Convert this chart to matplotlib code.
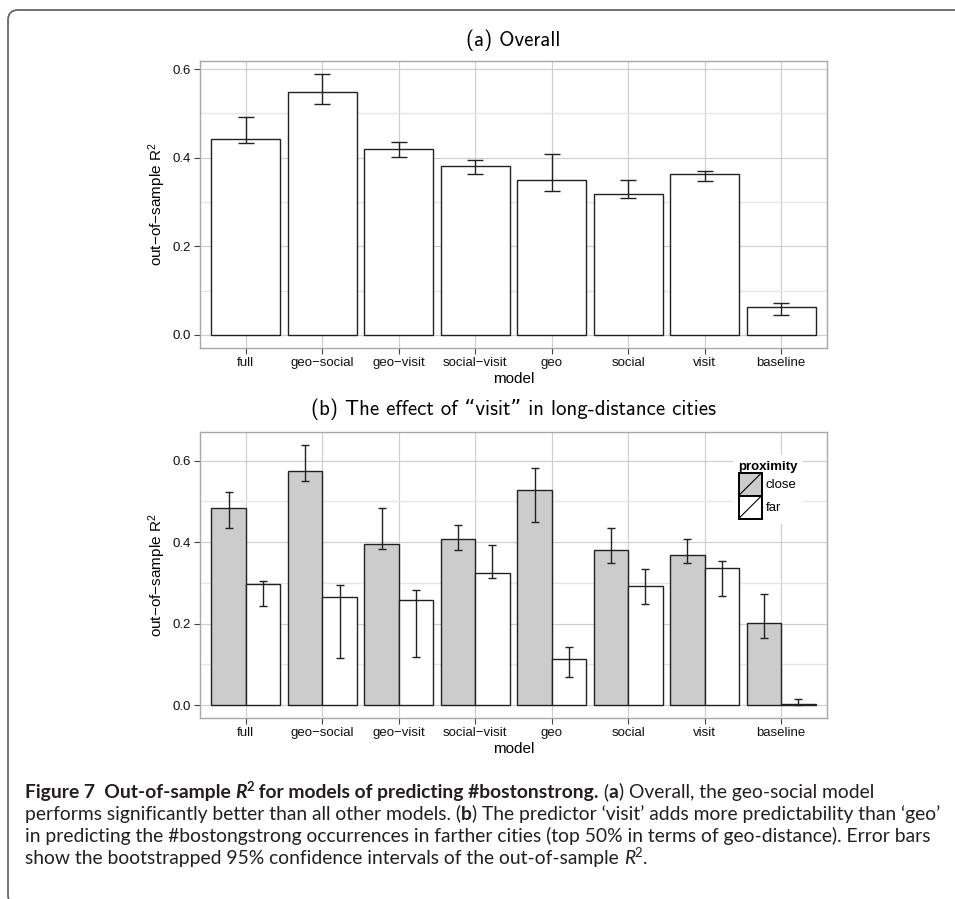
import numpy as np
import matplotlib
matplotlib.use('Agg')
import matplotlib.pyplot as plt
from matplotlib.patches import Patch, Rectangle, FancyBboxPatch
from matplotlib.lines import Line2D
from matplotlib.legend_handler import HandlerPatch

plt.rcParams['font.family'] = ['Liberation Sans', 'DejaVu Sans']
plt.rcParams['mathtext.fontset'] = 'custom'
plt.rcParams['mathtext.rm'] = 'Liberation Sans'
plt.rcParams['mathtext.it'] = 'Liberation Sans:italic'

# data
models = ['full', 'geo\u2212social', 'geo\u2212visit', 'social\u2212visit',
          'geo', 'social', 'visit', 'baseline']

overall_r2 = [0.442, 0.549, 0.419, 0.382, 0.349, 0.319, 0.364, 0.062]
overall_lo = [0.434, 0.522, 0.401, 0.364, 0.324, 0.309, 0.348, 0.045]
overall_hi = [0.493, 0.589, 0.436, 0.395, 0.409, 0.350, 0.370, 0.072]

close_r2 = [0.484, 0.575, 0.395, 0.407, 0.527, 0.381, 0.368, 0.202]
close_lo = [0.434, 0.549, 0.383, 0.381, 0.450, 0.349, 0.350, 0.165]
close_hi = [0.522, 0.639, 0.483, 0.442, 0.583, 0.435, 0.409, 0.273]

far_r2 = [0.297, 0.265, 0.258, 0.324, 0.114, 0.293, 0.336, 0.003]
far_lo = [0.244, 0.115, 0.118, 0.311, 0.069, 0.248, 0.269, 0.000]
far_hi = [0.304, 0.295, 0.283, 0.393, 0.143, 0.333, 0.355, 0.015]

proximity = ['close', 'far']
fills = ['#cccccc', 'white']

W, H = 955, 899
fig = plt.figure(figsize=(W / 100, H / 100), dpi=100)

ax1 = fig.add_axes([200 / W, 1 - 348 / H, 627 / W, 287 / H])
ax2 = fig.add_axes([200 / W, 1 - 718.3 / H, 627 / W, 286.6 / H])

x = np.arange(len(models))


def yerr(v, lo, hi):
    v, lo, hi = np.array(v), np.array(lo), np.array(hi)
    return [v - lo, hi - v]


def style_axes(ax, top):
    ax.set_xlim(-0.6, len(models) - 0.4)
    ax.set_ylim(-0.05 * top, 1.05 * top)
    ax.set_xticks(x)
    ax.set_xticklabels(models)
    ax.set_yticks([0, 0.2, 0.4, 0.6])
    ax.set_yticklabels(['0.0', '0.2', '0.4', '0.6'])
    ax.set_yticks([0.1, 0.3, 0.5], minor=True)
    ax.tick_params(which='minor', length=0)
    ax.tick_params(which='major', length=4, width=0.8, color='#444444',
                   labelsize=9.5, labelcolor='#111111', pad=2.5)
    ax.grid(which='major', color='#d0d0d0', lw=0.9)
    ax.grid(which='minor', color='#e6e6e6', lw=1.0)
    ax.set_axisbelow(True)
    for s in ax.spines.values():
        s.set_color('#a8a8a8')
        s.set_linewidth(1.0)
    ax.set_xlabel('model', fontsize=11, labelpad=2)
    ax.set_ylabel('out\u2212of\u2212sample R$^{2}$', fontsize=11, labelpad=3)


# (a) overall
ax1.bar(x, overall_r2, width=0.9, color='white', edgecolor='#222222', lw=1, zorder=2)
ax1.errorbar(x, overall_r2, yerr=yerr(overall_r2, overall_lo, overall_hi), fmt='none',
             ecolor='#222222', elinewidth=1, capsize=5.7, capthick=1, zorder=3)
style_axes(ax1, max(overall_hi))

# (b) close vs far
for i, (v, lo, hi) in enumerate([(close_r2, close_lo, close_hi), (far_r2, far_lo, far_hi)]):
    xs = x + (i - 0.5) * 0.45
    ax2.bar(xs, v, width=0.45, color=fills[i], edgecolor='#222222', lw=1, zorder=2)
    ax2.errorbar(xs, v, yerr=yerr(v, lo, hi), fmt='none', ecolor='#222222',
                 elinewidth=1, capsize=2.9, capthick=1, zorder=3)
style_axes(ax2, max(max(close_hi), max(far_hi)))


class SlashHandler(HandlerPatch):
    def create_artists(self, legend, orig_handle, xdescent, ydescent, width, height,
                       fontsize, trans):
        r = Rectangle((-xdescent, -ydescent), width, height, facecolor=orig_handle.get_facecolor(),
                      edgecolor='black', lw=1.4, transform=trans)
        l = Line2D([-xdescent, -xdescent + width], [-ydescent, -ydescent + height],
                   color='black', lw=0.8, transform=trans)
        return [r, l]


handles = [Patch(facecolor=f, edgecolor='black') for f in fills]
leg = ax2.legend(handles, proximity, handler_map={Patch: SlashHandler()},
                 title='proximity', title_fontproperties={'weight': 'bold', 'size': 9.5},
                 fontsize=9.5, loc='upper left', bbox_to_anchor=(0.84, 0.94),
                 handlelength=1.75, handleheight=2.3, labelspacing=0, handletextpad=0.3,
                 borderpad=0.4, frameon=True, fancybox=False, framealpha=1,
                 facecolor='white', edgecolor='none', alignment='left')

# panel titles
title_font = ['cmss10', 'DejaVu Sans']
fig.text(513 / W, 1 - 40 / H, '(a) Overall', ha='center', va='center', fontsize=15,
         family=title_font)
fig.text(513 / W, 1 - 409 / H, '(b) The effect of \u201cvisit\u201d in long-distance cities',
         ha='center', va='center', fontsize=15, family=title_font)

# figure frame
frame = FancyBboxPatch((0.08, -0.06), 9.8, 8.89 + 0.06, boxstyle='round,pad=0,rounding_size=0.1',
                       transform=fig.dpi_scale_trans, facecolor='none', edgecolor='#666666',
                       lw=1.3, clip_on=False)
fig.add_artist(frame)

# caption
cap_font = 'Lato'
B, R, BI, I = ('bold', 'normal'), ('normal', 'normal'), ('bold', 'italic'), ('normal', 'italic')
lines = [
    [('Figure 7  Out-of-sample ', B, 0), ('R', BI, 0), ('2', B, 1), (' for models of predicting #bostonstrong.', B, 0),
     (' (', R, 0), ('a', B, 0), (') Overall, the geo-social model', R, 0)],
    [('performs significantly better than all other models. (', R, 0), ('b', B, 0),
     (') The predictor \u2018visit\u2019 adds more predictability than \u2018geo\u2019', R, 0)],
    [('in predicting the #bostongstrong occurrences in farther cities (top 50% in terms of geo-distance). Error bars', R, 0)],
    [('show the bootstrapped 95% confidence intervals of the out-of-sample ', R, 0), ('R', I, 0), ('2', R, 1), ('.', R, 0)],
]
renderer = fig.canvas.get_renderer()


def draw_line(segs, y, size, draw=True):
    xp = 25.0
    made = []
    for txt, (wt, st), sup in segs:
        fs = size * (0.68 if sup else 1.0)
        yy = y - (size * 0.5 if sup else 0)
        t = fig.text(xp / W, 1 - yy / H, txt, fontsize=fs, family=cap_font, weight=wt,
                     style=st, ha='left', va='baseline', color='#231f20')
        bb = t.get_window_extent(renderer)
        xp = bb.x1
        made.append(t)
    if not draw:
        for t in made:
            t.remove()
    return xp - 25.0


width = draw_line(lines[1], 800, 10, draw=False)
cap_size = 10 * 917 / width
for segs, y in zip(lines, [798, 820, 842, 864]):
    draw_line(segs, y, cap_size)

fig.savefig('out.png', dpi=100)
